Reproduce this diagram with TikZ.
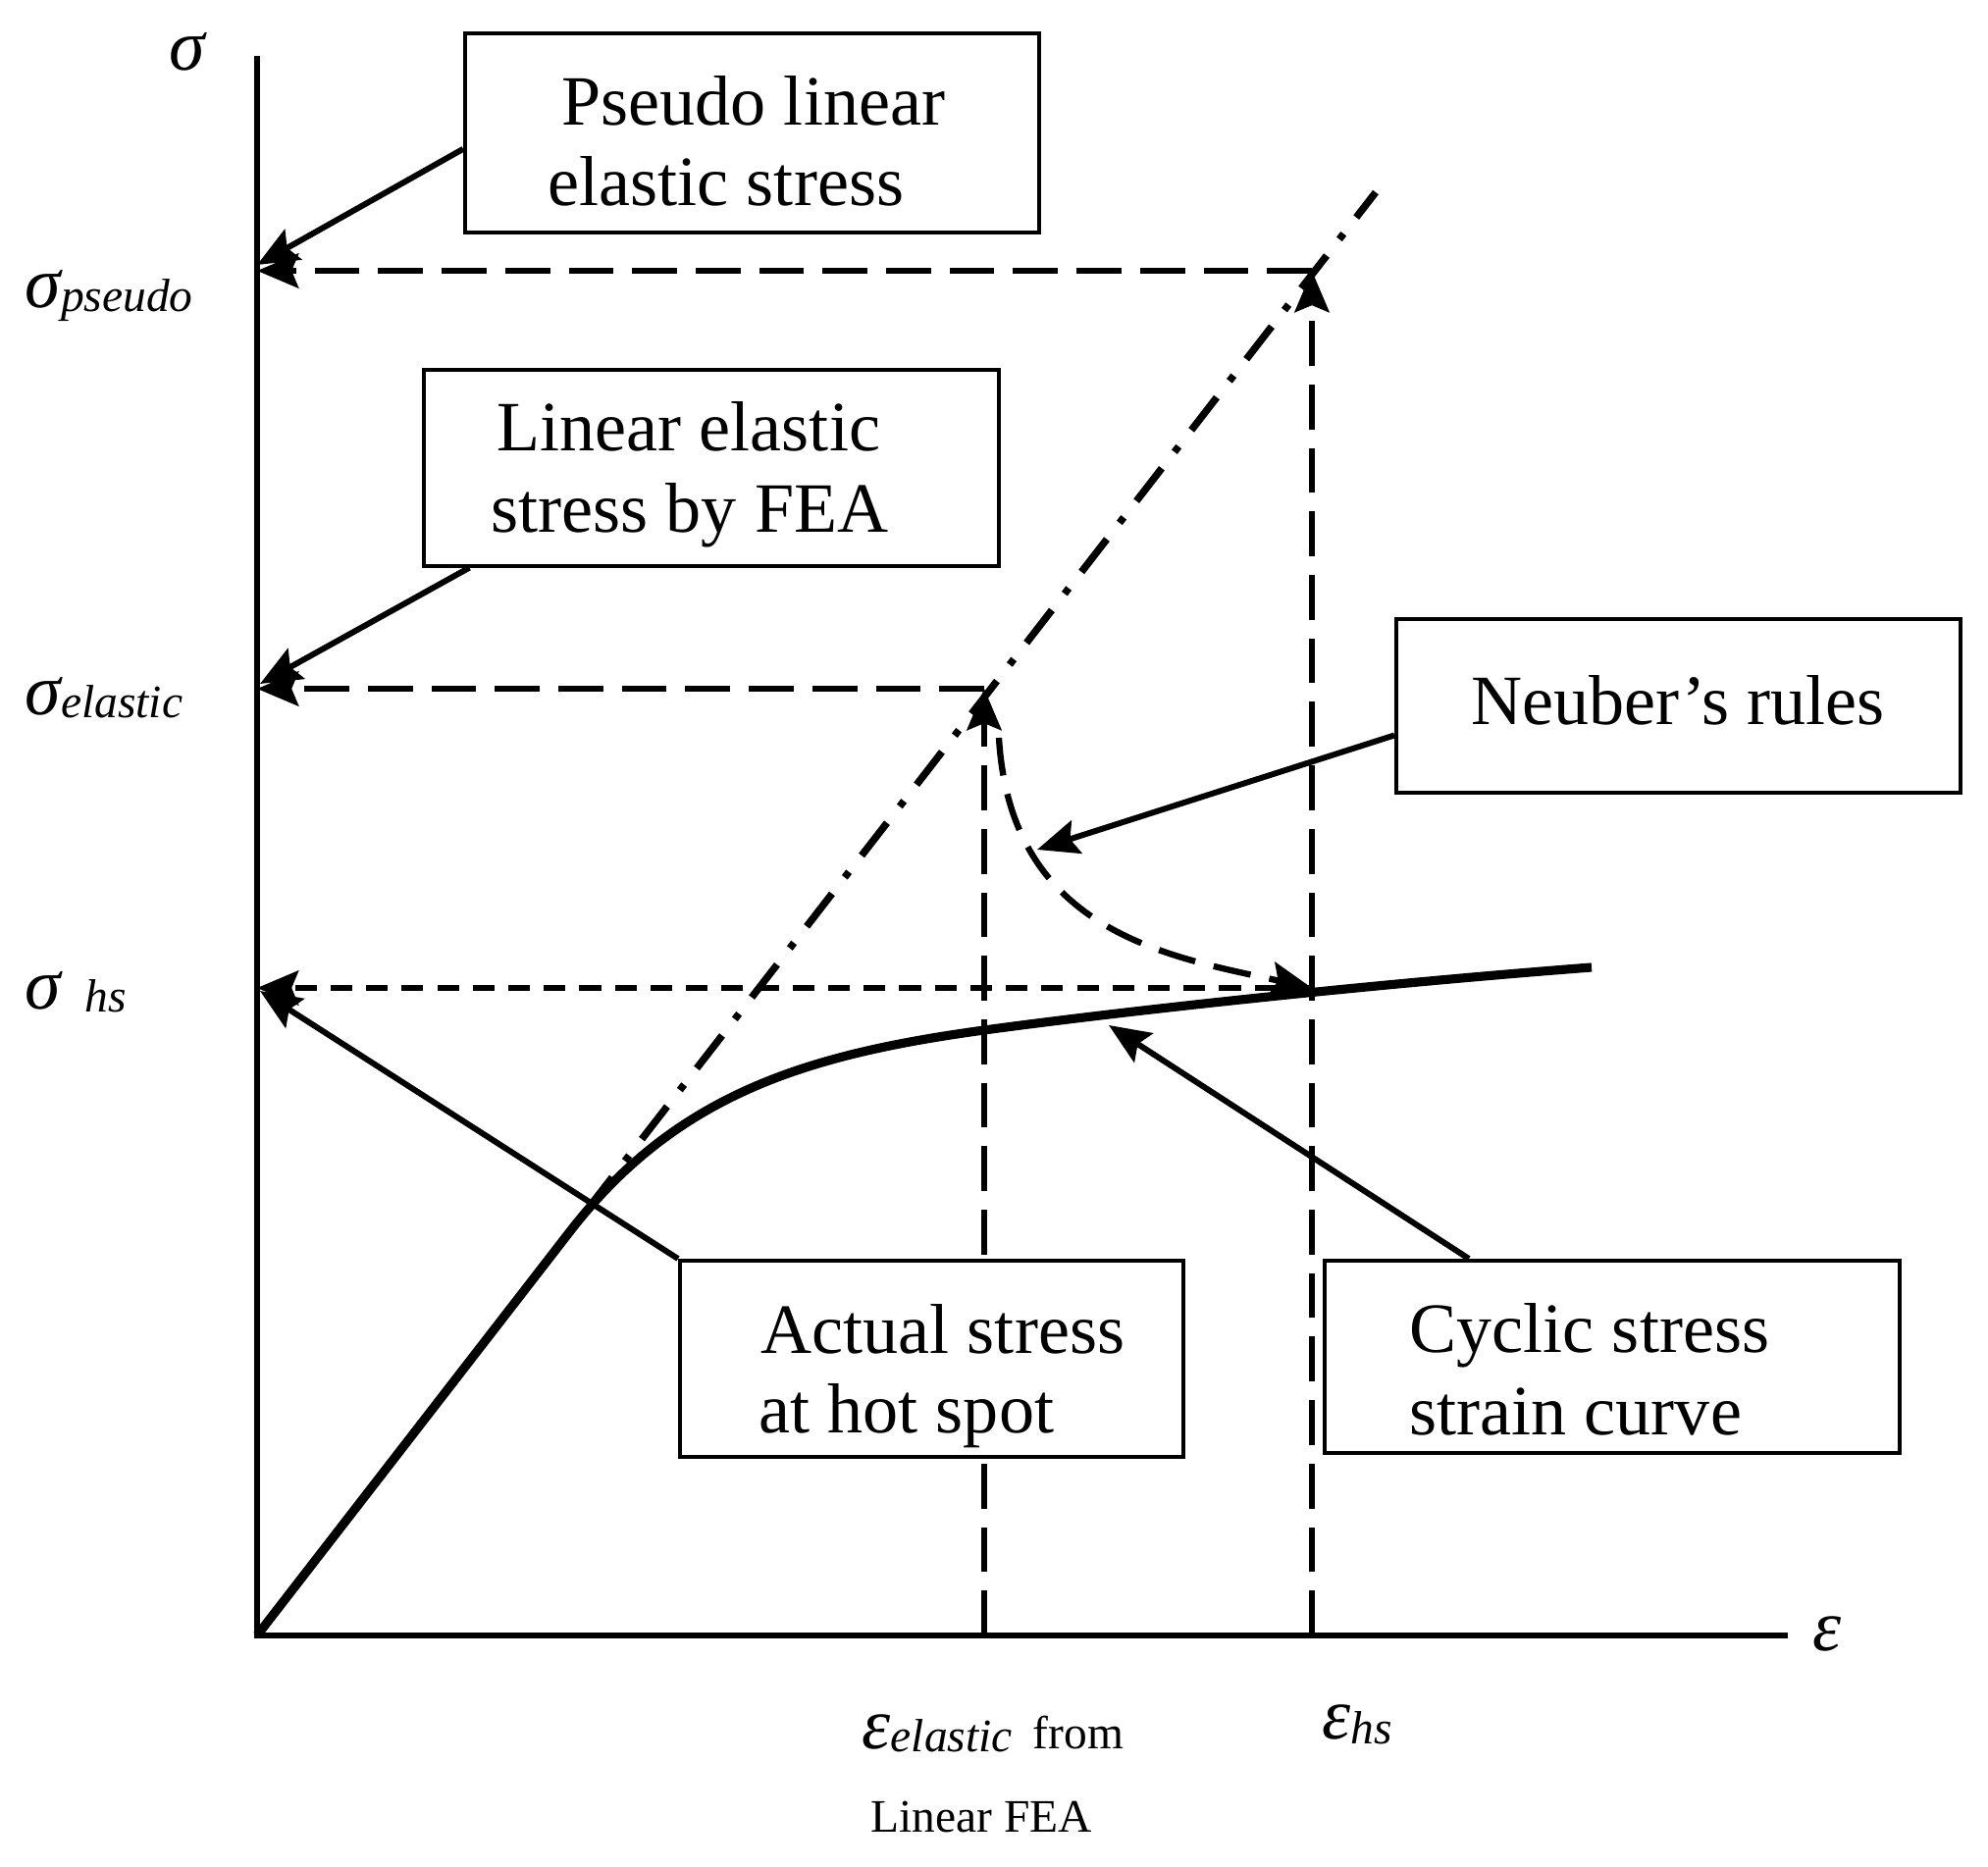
\documentclass[tikz,border=0pt]{standalone}
\usepackage{fontspec}
\setmainfont{Liberation Serif}
\usetikzlibrary{arrows.meta,calc}
\newcommand\boxfont{\fontsize{20.5pt}{24pt}\selectfont}
\newcommand\symfont{\fontsize{21pt}{24pt}\selectfont\itshape}
\newcommand\subfont{\fontsize{13.5pt}{16pt}\selectfont\itshape}
\newcommand\smallfont{\fontsize{13.5pt}{16pt}\selectfont\upshape}
\begin{document}
\begin{tikzpicture}[x=0.01cm,y=-0.01cm,
  axisline/.style={line width=1.7pt},
  guide/.style={line width=1.7pt, dash pattern=on 13pt off 5.4pt},
  guideshort/.style={line width=1.6pt, dash pattern=on 6.3pt off 4pt},
  neuberline/.style={line width=1.8pt, dash pattern=on 11pt off 5.5pt},
  dashdotline/.style={line width=2.1pt, dash pattern=on 12pt off 6pt on 2pt off 6pt},
  ssline/.style={line width=2.6pt},
  tipped/.style={-{Stealth[length=12pt,width=10pt,inset=2pt]}},
  pointer/.style={line width=1.7pt, -{Stealth[length=12pt,width=10pt,inset=2pt]}},
  labelbox/.style={draw, line width=1pt, fill=white, inner sep=0pt, anchor=north west},
  txt/.style={anchor=base west, inner sep=0pt, font=\boxfont},
  lbl/.style={anchor=base west, inner sep=0pt}]
\useasboundingbox (0,0) rectangle (2026,1903);

% key points
\coordinate (O) at (262,1667);
\coordinate (ytop) at (262,57);
\coordinate (xend) at (1822,1667);
\coordinate (Sp) at (262,276);
\coordinate (Se) at (262,702);
\coordinate (Sh) at (262,1007);
\coordinate (P) at (1337,276);
\coordinate (E) at (1003,702);
\coordinate (H) at (1337,1007);
\coordinate (Eb) at (1003,1667);
\coordinate (Hb) at (1337,1667);
\coordinate (DDend) at (1402,196);
\coordinate (Nstart) at (1018,752);
\coordinate (tp1) at (262,270);
\coordinate (tp2) at (265,697);
\coordinate (tp3) at (265,1010);
\coordinate (tp4) at (1130,1045);
\coordinate (tp5) at (1057,866);

% axes
\draw[axisline] (ytop) -- (O) -- (xend);

% guide lines
\draw[guide, tipped] (P) -- (Sp);
\draw[guide, tipped] (Hb) -- (P);
\draw[guide, tipped] (E) -- (Se);
\draw[guide, tipped] (Eb) -- (E);
\draw[guideshort, tipped] (H) -- (Sh);

% linear elastic line
\draw[dashdotline] (O) -- (DDend);

% cyclic stress strain curve
\draw[ssline] (O) -- (581,1255) .. controls (689,1116) and (820,1075) .. (1003,1050)
  .. controls (1150,1030) and (1400,1003) .. (1622,986);

% Neuber curve
\draw[neuberline, tipped] (Nstart) .. controls (1030,950) and (1190,975) .. (H);

% boxes
\node[labelbox, minimum width=5.85cm, minimum height=2.03cm] (pbox) at (472,32) {};
\node[labelbox, minimum width=5.86cm, minimum height=2.00cm] (lbox) at (430,375) {};
\node[labelbox, minimum width=5.75cm, minimum height=1.77cm] (nbox) at (1421,629) {};
\node[labelbox, minimum width=5.13cm, minimum height=2.00cm] (abox) at (691,1283) {};
\node[labelbox, minimum width=5.86cm, minimum height=1.96cm] (cbox) at (1348,1283) {};

% pointers
\draw[pointer] ($(pbox.north west)!0.58!(pbox.south west)$) -- (tp1);
\draw[pointer] ($(lbox.south west)!0.082!(lbox.south east)$) -- (tp2);
\draw[pointer] (abox.north west) -- (tp3);
\draw[pointer] ($(cbox.north west)!0.2526!(cbox.north east)$) -- (tp4);
\draw[pointer] ($(nbox.north west)!0.667!(nbox.south west)$) -- (tp5);

% box texts
\node[txt] (t1) at (572,128) {Pseudo linear};
\node[txt] (t2) at (558,210) {elastic stress};
\node[txt] (t3) at (506,459) {Linear elastic};
\node[txt] (t4) at (500,543) {stress by FEA};
\node[txt] (t5) at (1499,738) {Neuber’s rules};
\node[txt] (t6) at (775,1379) {Actual stress};
\node[txt] (t7) at (773,1460) {at hot spot};
\node[txt] (t8) at (1436,1378) {Cyclic stress};
\node[txt] (t9) at (1436,1462) {strain curve};

% axis labels
\node[lbl] (lsig) at (172,72) {\symfont σ};
\node[lbl] (lpseudo) at (25,314) {\symfont σ\subfont\raisebox{-1pt}{pseudo}};
\node[lbl] (lelastic) at (25,728) {\symfont σ\subfont\raisebox{-1pt}{elastic}};
\node[lbl] (lhs) at (25,1028) {\symfont σ\hspace{7pt}\subfont\raisebox{-1pt}{hs}};
\node[lbl] (leps) at (1847,1682) {\symfont ε};
\node[lbl] (lepsel) at (878,1782) {\symfont ε\subfont\raisebox{-1pt}{elastic}\hspace{6pt}\smallfont from};
\node[lbl] (llin) at (887,1867) {\smallfont Linear FEA};
\node[lbl] (lepshs) at (1347,1772) {\symfont ε\subfont\raisebox{-1.5pt}{hs}};
\end{tikzpicture}
\end{document}
